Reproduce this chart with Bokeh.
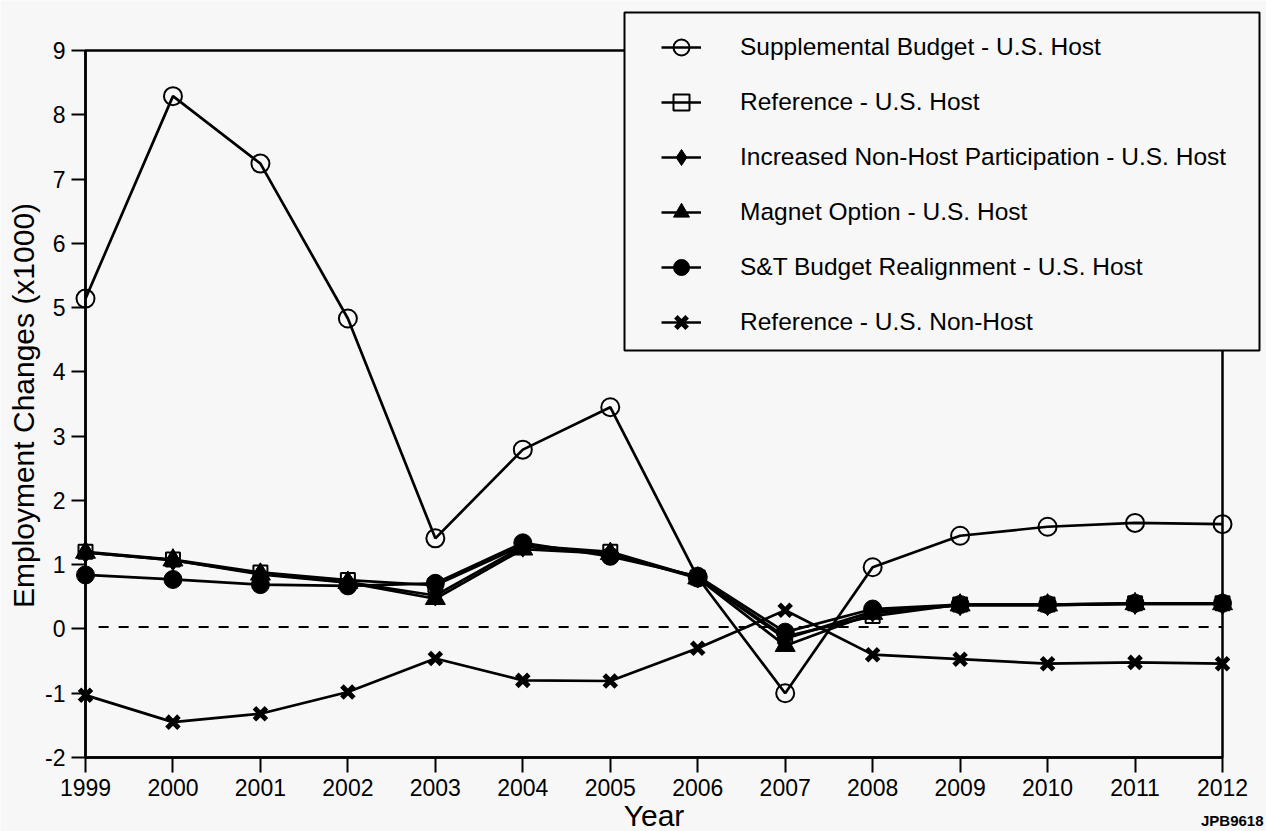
import math
from bokeh.plotting import figure
from bokeh.models import (Range1d, FixedTicker, Legend, LegendItem, BoxAnnotation,
                          Label, ColumnDataSource)
from bokeh.embed import file_html
from bokeh.resources import INLINE

# Employment changes (thousands of jobs) by year
years = [1999, 2000, 2001, 2002, 2003, 2004, 2005, 2006, 2007, 2008, 2009, 2010, 2011, 2012]
supplemental_host = [5.14, 8.29, 7.24, 4.83, 1.41, 2.79, 3.45, 0.80, -1.00, 0.96, 1.45, 1.59, 1.65, 1.63]
reference_host = [1.20, 1.08, 0.88, 0.76, 0.68, 1.30, 1.20, 0.80, -0.12, 0.20, 0.38, 0.38, 0.40, 0.40]
nonhost_participation_host = [1.19, 1.07, 0.86, 0.73, 0.52, 1.28, 1.18, 0.80, -0.15, 0.27, 0.37, 0.37, 0.39, 0.39]
magnet_host = [1.19, 1.07, 0.85, 0.72, 0.47, 1.24, 1.17, 0.79, -0.26, 0.24, 0.37, 0.37, 0.39, 0.39]
st_realignment_host = [0.84, 0.77, 0.69, 0.67, 0.71, 1.34, 1.13, 0.82, -0.05, 0.31, 0.38, 0.38, 0.40, 0.40]
reference_nonhost = [-1.03, -1.45, -1.32, -0.98, -0.46, -0.80, -0.81, -0.30, 0.29, -0.40, -0.47, -0.54, -0.52, -0.54]

# dashed baseline near zero
baseline_x = [1999.15, 2012]
baseline_y = [0.03, 0.03]

y_ticks = [-2, -1, 0, 1, 2, 3, 4, 5, 6, 7, 8, 9]
x_bounds = (1999, 2012)
y_bounds = (-2, 9)

BG = "#f7f7f7"
FONT = "Liberation Sans"

# canvas layout (pixels): the data area spans x 85..1222 and y 50..757;
# the frame covers the whole canvas so axes, legend box and labels are never clipped
W, H = 1266, 831
DATA_L, DATA_R, DATA_T, DATA_B = 85, 1222, 50, 757
px_x = (DATA_R - DATA_L) / (x_bounds[1] - x_bounds[0])
px_y = (DATA_B - DATA_T) / (y_bounds[1] - y_bounds[0])
x_start = x_bounds[0] - DATA_L / px_x
x_end = x_bounds[1] + (W - DATA_R) / px_x
y_end = y_bounds[1] + DATA_T / px_y
y_start = y_bounds[0] - (H - DATA_B) / px_y

p = figure(width=W, height=H, output_backend="svg", toolbar_location=None,
           x_range=Range1d(x_start, x_end), y_range=Range1d(y_start, y_end),
           min_border=0, background_fill_color=BG, border_fill_color=BG)
p.grid.visible = False
p.outline_line_color = None

for ax in (p.xaxis[0], p.yaxis[0]):
    ax.axis_line_color = "black"
    ax.axis_line_width = 2.5
    ax.major_tick_line_color = "black"
    ax.major_tick_line_width = 2
    ax.major_tick_in = 0
    ax.minor_tick_line_color = None
    ax.major_label_text_font = FONT
    ax.major_label_text_font_size = "23px"
    ax.major_label_text_color = "black"
    ax.axis_label_text_font = FONT
    ax.axis_label_text_font_size = "30px"
    ax.axis_label_text_font_style = "normal"
    ax.axis_label_text_color = "black"

p.xaxis.ticker = FixedTicker(ticks=years)
p.xaxis.bounds = x_bounds
p.xaxis.fixed_location = y_bounds[0]
p.xaxis.major_tick_out = 15
p.xaxis.major_label_standoff = 6
p.xaxis.axis_label = "Year"
p.xaxis.axis_label_standoff = 0

p.yaxis.ticker = FixedTicker(ticks=y_ticks)
p.yaxis.bounds = y_bounds
p.yaxis.fixed_location = x_bounds[0]
p.yaxis.major_tick_out = 14
p.yaxis.major_label_standoff = 6
p.yaxis.major_label_overrides = {t: str(t) for t in y_ticks}

# vertical axis title
p.add_layout(Label(x=23, y=H - 405, x_units="screen", y_units="screen",
                   text="Employment Changes (x1000)", angle=math.pi / 2,
                   text_align="center", text_baseline="middle",
                   text_font=FONT, text_font_size="30px", text_color="black"))

# plot area box
p.add_layout(BoxAnnotation(left=x_bounds[0], right=x_bounds[1], bottom=y_bounds[0], top=y_bounds[1],
                           fill_alpha=0, line_color="black", line_alpha=1, line_width=2.5,
                           level="guide"))

p.line(baseline_x, baseline_y, line_color="black", line_width=2, line_dash="10 10")

src = ColumnDataSource(dict(year=years, sup=supplemental_host, ref=reference_host,
                            nhp=nonhost_participation_host, mag=magnet_host,
                            st=st_realignment_host, rnh=reference_nonhost))

series = [
    ("sup", "Supplemental Budget - U.S. Host", "circle", 18, None, 2),
    ("ref", "Reference - U.S. Host", "square", 14, None, 2),
    ("nhp", "Increased Non-Host Participation - U.S. Host", "diamond", 21, "black", 1),
    ("mag", "Magnet Option - U.S. Host", "triangle", 20, "black", 1),
    ("st", "S&T Budget Realignment - U.S. Host", "circle", 18, "black", 1),
    ("rnh", "Reference - U.S. Non-Host", "x", 17, None, 5),
]

items = []
for col, label, marker, size, fill, lw in series:
    lr = p.line("year", col, source=src, line_color="black", line_width=2.7)
    sr = p.scatter("year", col, source=src, marker=marker, size=size,
                   fill_color=fill, line_color="black", line_width=lw)
    items.append(LegendItem(label=label, renderers=[lr, sr]))

# legend frame (canvas pixels, measured from the bottom-left)
p.add_layout(BoxAnnotation(left=624, right=1259, top=H - 12, bottom=H - 350,
                           left_units="screen", right_units="screen",
                           top_units="screen", bottom_units="screen",
                           fill_color=BG, fill_alpha=1, line_color="black", line_alpha=1,
                           line_width=2, level="annotation"))

legend = Legend(items=items, location=(661, H - 342), margin=0, padding=10,
                spacing=15, glyph_width=40, glyph_height=40, label_height=40,
                label_standoff=39, border_line_color=None, background_fill_alpha=0,
                label_text_font=FONT, label_text_font_size="24.5px",
                label_text_color="black")
p.add_layout(legend)

p.add_layout(Label(x=W - 3, y=H - 820, x_units="screen", y_units="screen",
                   text="JPB9618", text_align="right", text_baseline="middle",
                   text_font=FONT, text_font_size="15px", text_font_style="bold",
                   text_color="black"))

open("out.html", "w").write(file_html(p, INLINE))
